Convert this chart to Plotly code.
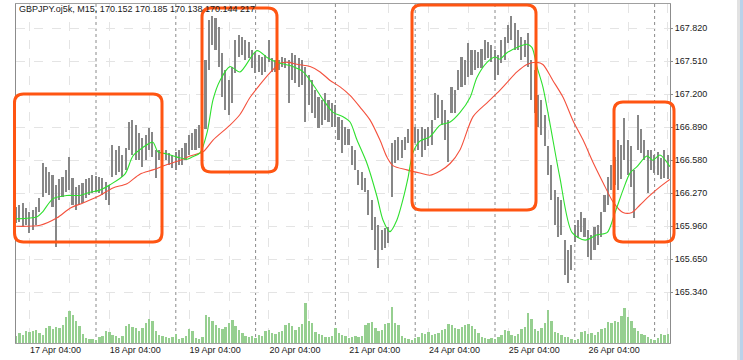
import plotly.graph_objects as go

# ---------------- data ----------------
hours = list(range(197))  # trading hours from 17 Apr 00:00 (weekend removed)

highs = [166.14,166.16,166.18,166.13,166.09,166.11,166.14,166.23,166.55,166.52,
166.47,166.44,166.35,166.40,166.42,166.49,166.61,166.41,166.33,166.35,
166.37,166.40,166.41,166.44,166.43,166.42,166.41,166.38,166.35,166.72,
166.68,166.71,166.63,166.70,166.94,166.96,166.91,166.84,166.79,166.82,
166.88,166.85,166.68,166.68,166.66,166.68,166.65,166.63,166.66,166.68,
166.70,166.74,166.82,166.84,166.87,166.91,167.08,167.52,167.90,167.94,
167.92,167.83,167.59,167.43,167.33,167.46,167.71,167.76,167.74,167.71,
167.69,167.62,167.60,167.57,167.55,167.57,167.71,167.54,167.52,167.52,
167.55,167.54,167.52,167.59,167.57,167.54,167.52,167.46,167.38,167.33,
167.24,167.17,167.15,167.21,167.15,167.12,167.10,166.99,166.96,166.89,
166.87,166.71,166.68,166.49,166.47,166.41,166.30,166.21,166.05,165.97,
165.93,165.94,165.95,166.74,166.77,166.80,166.77,166.80,166.87,166.88,
166.89,166.87,166.89,166.87,166.89,166.96,167.21,167.19,167.15,167.05,
166.96,167.27,167.24,167.43,167.55,167.52,167.68,167.62,167.62,167.60,
167.63,167.71,167.69,167.66,167.62,167.57,167.71,167.74,167.85,167.94,
167.87,167.80,167.74,167.71,167.78,167.52,167.43,167.19,167.15,167.01,
166.71,166.54,166.30,166.24,166.21,165.83,165.74,165.78,165.97,166.02,
166.09,166.04,165.93,165.88,165.95,165.97,166.09,166.25,166.42,166.54,
166.61,166.77,166.72,166.98,166.77,166.71,166.49,167.01,166.87,166.77,
166.68,166.68,166.63,166.66,166.60,166.68,166.63]

lows = [165.99,166.00,165.95,165.97,165.90,165.93,165.97,166.09,166.24,166.27,
166.25,166.14,165.77,166.21,166.24,166.28,166.30,166.16,166.11,166.16,
166.18,166.23,166.25,166.27,166.28,166.27,166.25,166.21,166.16,166.42,
166.44,166.47,166.42,166.49,166.68,166.63,166.58,166.58,166.52,166.58,
166.68,166.61,166.41,166.58,166.56,166.58,166.54,166.51,166.49,166.54,
166.54,166.58,166.63,166.68,166.68,166.70,166.72,166.87,167.43,167.66,
167.62,167.46,167.17,167.05,167.01,167.12,167.40,167.55,167.57,167.52,
167.54,167.45,167.40,167.41,167.38,167.41,167.50,167.41,167.41,167.43,
167.46,167.45,167.12,167.33,167.31,167.27,167.29,166.94,167.10,167.02,
166.98,166.88,166.91,166.96,166.94,166.89,166.89,166.77,166.65,166.72,
166.72,166.54,166.49,166.35,166.30,166.28,166.07,165.93,165.74,165.57,
165.74,165.76,165.80,166.24,166.55,166.58,166.60,166.68,166.74,166.77,
166.74,166.68,166.61,166.68,166.71,166.72,166.96,166.98,166.91,166.77,
166.56,167.02,167.02,167.24,167.27,167.29,167.36,167.38,167.43,167.45,
167.45,167.52,167.54,167.50,167.33,167.38,167.49,167.52,167.68,167.71,
167.62,167.62,167.52,167.55,167.46,167.15,167.02,166.89,166.82,166.71,
166.44,166.21,165.97,165.86,165.88,165.50,165.43,165.55,165.81,165.85,
165.91,165.86,165.67,165.64,165.74,165.78,165.86,166.09,166.16,166.30,
166.35,166.30,166.40,166.58,166.44,166.33,166.04,166.68,166.65,166.58,
166.27,166.49,166.46,166.44,166.40,166.41,166.40]

volumes = [7,10,8,12,11,12,13,10,8,15,
17,14,16,15,18,26,32,28,22,17,
9,5,4,4,3,6,7,12,11,8,
7,5,7,17,19,16,15,12,15,20,
24,22,12,8,7,6,5,6,9,4,
5,7,14,12,5,4,6,28,26,22,
18,15,14,16,20,23,17,13,10,7,
6,7,5,8,7,12,13,10,9,11,
12,18,20,17,13,16,19,40,22,20,
11,9,8,6,6,7,15,10,8,7,
5,6,7,6,7,18,20,21,15,12,
13,19,20,36,20,18,7,5,4,3,
5,6,10,9,11,8,9,10,13,14,
19,18,15,14,16,18,19,17,14,10,
6,5,4,5,4,6,8,13,12,8,
7,9,14,16,30,24,14,12,15,20,
33,22,11,10,8,6,6,4,3,4,
11,12,9,10,8,11,14,15,21,20,
22,21,27,35,26,22,15,12,9,8,
6,4,3,5,9,8,9]

fast_ma_t = [0,6.3,7.8,11.1,15.3,19.2,22.2,25.2,28.2,32.7,35.1,38.1,41.1,42.6,45.4,48.4,51.4,52.9,55.3,
             57.4,59.2,61.3,64.3,67.3,72.4,75.7,78.4,83.2,86.3,89.3,92.3,95.3,98.3,100.4,102.5,105.5,
             108.5,110.3,112.4,114.5,116.3,117.8,119.3,121.4,124.4,127.5,130.5,133.5,136.5,138.6,141.6,
             144.0,145.5,147.6,150.6,153.6,155.1,156.6,158.4,160.5,163.5,167.2,171.1,174.7,177.7,180.1,
             182.5,184.6,186.7,189.7,191.5,193.6,196.6]
fast_ma = [166.03,166.05,166.09,166.22,166.25,166.25,166.28,166.30,166.35,166.45,166.62,166.70,166.75,166.66,
           166.64,166.61,166.59,166.61,166.65,166.84,167.15,167.33,167.46,167.41,167.61,167.54,167.50,167.46,
           167.41,167.29,167.15,167.03,166.99,166.94,166.77,166.55,166.24,166.02,165.91,166.02,166.21,166.41,
           166.65,166.76,166.80,166.91,166.94,167.03,167.17,167.36,167.50,167.55,167.53,167.59,167.64,167.67,
           167.64,167.46,167.27,166.93,166.42,165.90,165.83,165.88,165.90,166.09,166.30,166.46,166.52,166.62,
           166.58,166.63,166.52]

slow_ma_t = [0,7.2,12.3,16.2,20.1,25.2,29.1,33.3,37.2,41.1,45.4,49.3,52.3,56.2,59.2,64.3,67.3,70.3,73.3,76.3,
             79.3,81.7,84.8,88.4,91.4,94.4,97.4,100.4,103.4,106.4,109.4,111.5,113.3,117.5,121.4,124.4,127.5,
             130.5,133.5,137.4,141.6,144.6,147.6,150.6,153.6,156.6,158.4,161.4,164.5,167.5,170.5,173.5,176.5,
             179.5,182.5,185.2,187.6,190.6,193.6,196.6]
slow_ma = [165.96,165.97,166.04,166.13,166.18,166.25,166.32,166.36,166.45,166.49,166.54,166.58,166.62,166.66,
           166.77,166.91,167.01,167.17,167.29,167.40,167.49,167.50,167.48,167.46,167.41,167.33,167.27,167.19,
           167.08,166.96,166.77,166.61,166.53,166.49,166.46,166.44,166.48,166.55,166.68,166.99,167.12,167.21,
           167.31,167.41,167.48,167.50,167.48,167.33,167.17,166.95,166.77,166.56,166.37,166.19,166.09,166.09,
           166.16,166.25,166.33,166.40]

price_ticks = [165.34, 165.65, 165.96, 166.27, 166.58, 166.89, 167.20, 167.51, 167.82]
grid_hours = [4,16,28,40,52,64,76,88,100,112,124,136,148,160,172,184,196]
grid_labels = ["17 Apr 04:00","","18 Apr 04:00","","19 Apr 04:00","","20 Apr 04:00","",
               "21 Apr 04:00","","24 Apr 04:00","","25 Apr 04:00","","26 Apr 04:00","",""]
day_starts = [24,48,72,96,120,144,168,192]
title_text = "GBPJPY.oj5k, M15, 170.152 170.185 170.138 170.144 217"

# ---------------- layout geometry (pixels) ----------------
W, H = 743, 360
L, R, T, B = 16, 670, 4, 343
FONT = "Liberation Sans, Arial, sans-serif"

def px(x):
    return (x - L) / (R - L)

def py(y):
    return (B - y) / (B - T)

def rrect(x0, y0, x1, y1, r):
    return (f"M {px(x0+r)},{py(y0)} L {px(x1-r)},{py(y0)} Q {px(x1)},{py(y0)} {px(x1)},{py(y0+r)} "
            f"L {px(x1)},{py(y1-r)} Q {px(x1)},{py(y1)} {px(x1-r)},{py(y1)} "
            f"L {px(x0+r)},{py(y1)} Q {px(x0)},{py(y1)} {px(x0)},{py(y1-r)} "
            f"L {px(x0)},{py(y0+r)} Q {px(x0)},{py(y0)} {px(x0+r)},{py(y0)} Z")

fig = go.Figure()

fig.add_trace(go.Bar(x=hours, y=volumes, yaxis="y2", width=0.72,
                     marker=dict(color="#96cf90", line=dict(width=0)), hoverinfo="skip"))

fig.add_trace(go.Bar(x=hours, y=[h - l for h, l in zip(highs, lows)], base=lows, width=0.48,
                     marker=dict(color="#878787", line=dict(width=0)), hoverinfo="skip"))

fig.add_trace(go.Scatter(x=slow_ma_t, y=slow_ma, mode="lines",
                         line=dict(color="#f4513d", width=1.1, shape="spline", smoothing=0.8)))
fig.add_trace(go.Scatter(x=fast_ma_t, y=fast_ma, mode="lines",
                         line=dict(color="#2fe02f", width=1.1, shape="spline", smoothing=0.8)))

shapes = []
for d in day_starts:
    shapes.append(dict(type="line", xref="x", yref="paper", x0=d, x1=d, y0=0, y1=1,
                       line=dict(color="#8a8a8a", width=1, dash="3px,3px"), layer="below"))

boxes = [(14.5, 94, 162, 242), (202, 8, 277, 172), (412, 5, 536, 210), (614, 102, 674, 242)]
for b in boxes:
    shapes.append(dict(type="path", xref="paper", yref="paper", path=rrect(*b, 9),
                       line=dict(color="#ff5512", width=3), fillcolor="rgba(0,0,0,0)", layer="above"))

# right-hand window strip
shapes.append(dict(type="rect", xref="paper", yref="paper", x0=px(737), x1=px(740), y0=py(362), y1=py(-2),
                   line=dict(width=0), fillcolor="#e2e2e2", layer="above"))
shapes.append(dict(type="rect", xref="paper", yref="paper", x0=px(740), x1=px(745), y0=py(362), y1=py(-2),
                   line=dict(width=0), fillcolor="#b9d2ea", layer="above"))

fig.update_layout(
    width=W, height=H,
    margin=dict(l=L, r=W - R, t=T, b=H - B),
    paper_bgcolor="white", plot_bgcolor="white",
    showlegend=False, bargap=0,
    font=dict(family=FONT, size=9, color="#1a1a1a"),
    shapes=shapes,
    xaxis=dict(range=[-0.06, 196.63], tickmode="array", tickvals=grid_hours, ticktext=grid_labels,
               ticklabelposition="outside right", ticks="", showgrid=True, gridcolor="#e4e4e4",
               griddash="dash", gridwidth=1, zeroline=False, showline=True, linecolor="#a0a0a0",
               linewidth=1, mirror=True, tickfont=dict(family=FONT, size=9, color="#1a1a1a"),
               ticklabelstandoff=-2),
    yaxis=dict(side="right", range=[164.864, 168.048], tickmode="array", tickvals=price_ticks,
               ticktext=[f"{v:.3f}" for v in price_ticks], showgrid=True, gridcolor="#e4e4e4",
               griddash="dash", zeroline=False, showline=True, linecolor="#8c8c8c", linewidth=1,
               mirror=True, ticks="outside", ticklen=2, tickcolor="#8c8c8c",
               tickfont=dict(family=FONT, size=9, color="#1a1a1a"), ticklabelstandoff=0),
    yaxis2=dict(overlaying="y", range=[0, 339], visible=False),
    annotations=[dict(text=title_text, xref="paper", yref="paper", x=px(17), y=py(8.5),
                      xanchor="left", yanchor="middle", showarrow=False,
                      font=dict(family=FONT, size=9, color="#1a1a1a"))],
)

fig.write_html("out.html", config={"displayModeBar": False},
               post_script="document.body.style.margin='0';document.body.style.padding='0';")
